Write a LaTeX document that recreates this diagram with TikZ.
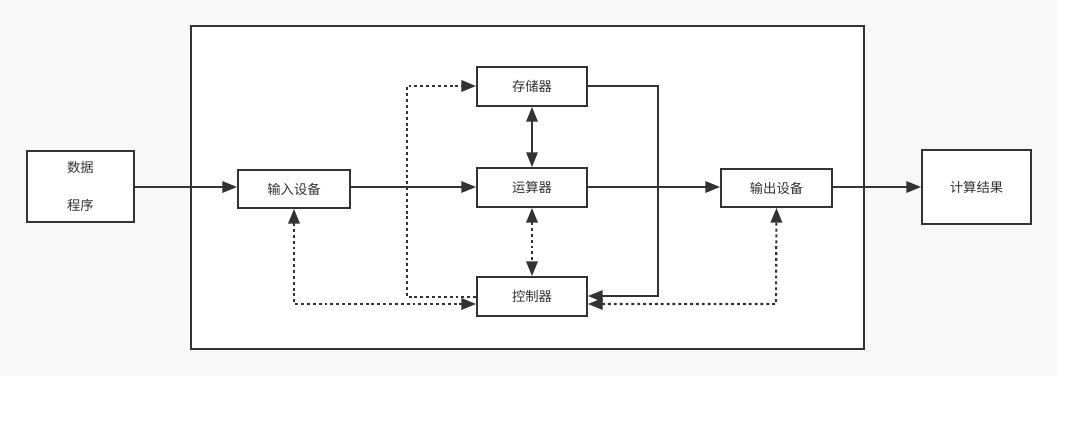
\documentclass[tikz,border=0pt]{standalone}
\usepackage{fontspec}
\setmainfont{Noto Sans CJK SC}
\usetikzlibrary{arrows.meta}
\definecolor{ln}{HTML}{333333}
\definecolor{bg}{HTML}{F8F8F8}
\begin{document}
\begin{tikzpicture}[x=0.75pt,y=-0.75pt,
  box/.style={draw=ln,line width=1.4pt,fill=white,inner sep=0pt,font=\fontsize{10pt}{12pt}\selectfont,text=ln},
  ar/.style={draw=ln,line width=1.4pt,-{Triangle[length=11pt,width=8.5pt]}},
  dar/.style={ar,dash pattern=on 2.2pt off 2.2pt,line width=1.6pt},
  both/.style={{Triangle[length=11pt,width=8.5pt]}-{Triangle[length=11pt,width=8.5pt]}}]
\useasboundingbox (0,0) rectangle (1079,443);
\fill[bg] (0,0) rectangle (1057,376);
\node[box,minimum width=673*0.75pt,minimum height=323*0.75pt] (outer) at (527.5,187.5) {};
\node[box,minimum width=107*0.75pt,minimum height=71*0.75pt,align=center] (src) at (80.5,186.5) {数据\\[16pt]程序};
\node[box,minimum width=112*0.75pt,minimum height=38*0.75pt] (in) at (294,189) {输入设备};
\node[box,minimum width=110*0.75pt,minimum height=39*0.75pt] (mem) at (532,86.5) {存储器};
\node[box,minimum width=110*0.75pt,minimum height=39*0.75pt] (alu) at (532,187.5) {运算器};
\node[box,minimum width=110*0.75pt,minimum height=39*0.75pt] (ctl) at (532,296.5) {控制器};
\node[box,minimum width=111*0.75pt,minimum height=38*0.75pt] (out) at (776.5,188) {输出设备};
\node[box,minimum width=109*0.75pt,minimum height=74*0.75pt] (res) at (976.5,187) {计算结果};
\coordinate (a1) at (407,86);
\coordinate (a2) at (407,297);
\coordinate (b1) at (294,304);
\coordinate (c1) at (658,86);
\coordinate (c2) at (658,296);
\coordinate (d1) at (776,304);
\draw[ar] (src.east |- 0,187) -- (in.west |- 0,187);
\draw[ar] (in.east |- 0,187) -- (alu.west |- 0,187);
\draw[ar] (alu.east |- 0,187) -- (out.west |- 0,187);
\draw[ar] (out.east |- 0,187) -- (res.west |- 0,187);
\draw[ar,both] (mem.south) -- (alu.north);
\draw[dar,both] (alu.south) -- (ctl.north);
\draw[dar] (ctl.west |- a2) -- (a2) -- (a1) -- (mem.west |- a1);
\draw[dar,both] (in.south) -- (b1) -- (ctl.west |- b1);
\draw[ar] (mem.east |- c1) -- (c1) -- (c2) -- (ctl.east |- c2);
\draw[dar,both] (ctl.east |- d1) -- (d1) -- (out.south);
\end{tikzpicture}
\end{document}
